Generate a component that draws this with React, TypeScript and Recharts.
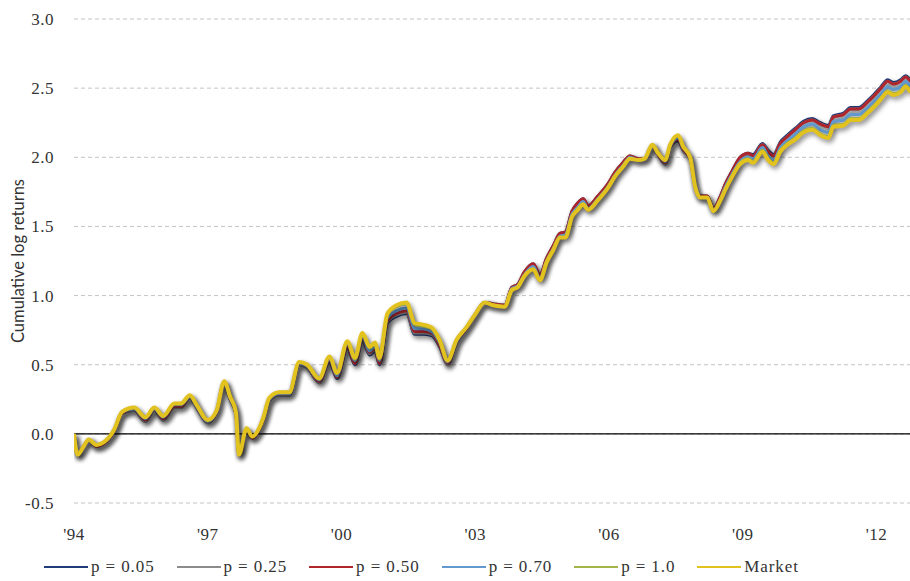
import React from 'react';
import { LineChart, Line, XAxis, YAxis, CartesianGrid, ReferenceLine, Legend } from 'recharts';

const years = [
  1994.00, 1994.08, 1994.20, 1994.33, 1994.50, 1994.67, 1994.90, 1995.08, 1995.35, 1995.60,
  1995.80, 1996.00, 1996.25, 1996.40, 1996.60, 1996.75, 1997.00, 1997.20, 1997.37, 1997.50,
  1997.63, 1997.70, 1997.87, 1998.00, 1998.15, 1998.25, 1998.38, 1998.60, 1998.83, 1999.05,
  1999.23, 1999.50, 1999.73, 1999.90, 2000.13, 2000.30, 2000.47, 2000.63, 2000.75, 2000.85,
  2001.03, 2001.23, 2001.46, 2001.64, 2001.82, 2002.02, 2002.20, 2002.38, 2002.58, 2002.80,
  2002.99, 2003.21, 2003.40, 2003.66, 2003.82, 2003.95, 2004.10, 2004.30, 2004.45, 2004.60,
  2004.75, 2004.90, 2005.02, 2005.17, 2005.30, 2005.42, 2005.53, 2005.75, 2005.98, 2006.13,
  2006.31, 2006.47, 2006.65, 2006.80, 2006.97, 2007.10, 2007.26, 2007.37, 2007.55, 2007.66,
  2007.82, 2007.93, 2008.04, 2008.20, 2008.34, 2008.50, 2008.60, 2008.76, 2008.94, 2009.12,
  2009.23, 2009.44, 2009.57, 2009.69, 2009.84, 2010.00, 2010.18, 2010.36, 2010.56, 2010.74,
  2010.92, 2011.03, 2011.26, 2011.42, 2011.60, 2011.80, 2011.93, 2012.10, 2012.25, 2012.38,
  2012.54, 2012.65, 2012.76,
];

const p05 = [
  0.00, -0.15, -0.10, -0.04, -0.09, -0.07, 0.02, 0.15, 0.17, 0.09,
  0.17, 0.10, 0.19, 0.19, 0.26, 0.19, 0.08, 0.16, 0.37, 0.25,
  0.15, -0.15, 0.03, -0.03, 0.03, 0.11, 0.24, 0.28, 0.28, 0.50,
  0.48, 0.37, 0.52, 0.40, 0.62, 0.50, 0.67, 0.57, 0.60, 0.50,
  0.80, 0.85, 0.87, 0.72, 0.72, 0.71, 0.63, 0.50, 0.66, 0.76,
  0.86, 0.95, 0.94, 0.93, 1.06, 1.08, 1.17, 1.23, 1.15, 1.27,
  1.36, 1.45, 1.46, 1.61, 1.67, 1.70, 1.65, 1.72, 1.81, 1.89,
  1.96, 2.01, 1.99, 1.99, 2.09, 2.02, 1.95, 2.07, 2.12, 2.05,
  1.99, 1.79, 1.72, 1.72, 1.63, 1.72, 1.80, 1.90, 2.00, 2.03,
  2.02, 2.10, 2.05, 2.02, 2.11, 2.16, 2.21, 2.26, 2.28, 2.25,
  2.23, 2.30, 2.32, 2.36, 2.36, 2.41, 2.45, 2.51, 2.56, 2.54,
  2.56, 2.59, 2.56,
];

const p25 = [
  0.00, -0.15, -0.10, -0.04, -0.09, -0.07, 0.02, 0.15, 0.17, 0.09,
  0.17, 0.10, 0.19, 0.19, 0.26, 0.19, 0.08, 0.16, 0.37, 0.25,
  0.15, -0.15, 0.03, -0.03, 0.03, 0.11, 0.24, 0.28, 0.28, 0.50,
  0.48, 0.37, 0.53, 0.41, 0.63, 0.51, 0.68, 0.58, 0.61, 0.51,
  0.81, 0.86, 0.88, 0.73, 0.73, 0.72, 0.64, 0.50, 0.66, 0.76,
  0.86, 0.95, 0.94, 0.93, 1.06, 1.08, 1.17, 1.22, 1.14, 1.27,
  1.36, 1.45, 1.45, 1.60, 1.66, 1.69, 1.65, 1.72, 1.81, 1.89,
  1.96, 2.01, 1.99, 1.99, 2.09, 2.02, 1.95, 2.07, 2.13, 2.05,
  1.99, 1.79, 1.72, 1.72, 1.63, 1.72, 1.79, 1.89, 1.99, 2.02,
  2.01, 2.09, 2.04, 2.01, 2.10, 2.15, 2.20, 2.25, 2.27, 2.24,
  2.22, 2.29, 2.31, 2.35, 2.35, 2.40, 2.44, 2.50, 2.55, 2.53,
  2.55, 2.58, 2.55,
];

const p50 = [
  0.00, -0.15, -0.10, -0.04, -0.09, -0.07, 0.02, 0.15, 0.18, 0.10,
  0.18, 0.11, 0.20, 0.20, 0.27, 0.20, 0.09, 0.16, 0.37, 0.26,
  0.15, -0.15, 0.03, -0.03, 0.03, 0.11, 0.25, 0.29, 0.29, 0.51,
  0.49, 0.38, 0.53, 0.41, 0.63, 0.51, 0.69, 0.59, 0.62, 0.51,
  0.82, 0.87, 0.89, 0.74, 0.74, 0.73, 0.64, 0.51, 0.67, 0.76,
  0.86, 0.95, 0.94, 0.93, 1.06, 1.08, 1.17, 1.23, 1.15, 1.27,
  1.36, 1.45, 1.46, 1.61, 1.67, 1.70, 1.65, 1.72, 1.81, 1.89,
  1.96, 2.01, 1.99, 1.99, 2.09, 2.02, 1.96, 2.08, 2.13, 2.06,
  1.99, 1.79, 1.72, 1.72, 1.63, 1.72, 1.80, 1.90, 2.00, 2.03,
  2.01, 2.09, 2.04, 2.01, 2.10, 2.15, 2.20, 2.25, 2.27, 2.24,
  2.22, 2.29, 2.31, 2.35, 2.35, 2.40, 2.44, 2.50, 2.55, 2.53,
  2.55, 2.58, 2.55,
];

const p70 = [
  0.00, -0.15, -0.10, -0.04, -0.08, -0.06, 0.03, 0.16, 0.18, 0.11,
  0.18, 0.12, 0.21, 0.21, 0.27, 0.20, 0.09, 0.17, 0.38, 0.26,
  0.16, -0.15, 0.04, -0.02, 0.04, 0.12, 0.25, 0.29, 0.29, 0.51,
  0.49, 0.39, 0.54, 0.42, 0.65, 0.53, 0.70, 0.60, 0.63, 0.53,
  0.84, 0.89, 0.91, 0.76, 0.76, 0.74, 0.66, 0.52, 0.67, 0.77,
  0.86, 0.95, 0.93, 0.92, 1.05, 1.07, 1.15, 1.21, 1.13, 1.25,
  1.34, 1.43, 1.44, 1.59, 1.64, 1.68, 1.63, 1.70, 1.79, 1.87,
  1.94, 2.00, 1.98, 1.99, 2.09, 2.03, 1.97, 2.08, 2.14, 2.07,
  2.00, 1.79, 1.71, 1.71, 1.62, 1.70, 1.78, 1.88, 1.97, 2.00,
  1.99, 2.07, 2.01, 1.98, 2.07, 2.12, 2.17, 2.22, 2.24, 2.20,
  2.18, 2.26, 2.27, 2.31, 2.31, 2.36, 2.40, 2.46, 2.51, 2.49,
  2.51, 2.55, 2.51,
];

const p100 = [
  0.00, -0.15, -0.10, -0.04, -0.08, -0.06, 0.03, 0.16, 0.19, 0.12,
  0.19, 0.13, 0.22, 0.22, 0.28, 0.21, 0.10, 0.17, 0.38, 0.27,
  0.16, -0.15, 0.04, -0.02, 0.04, 0.12, 0.26, 0.30, 0.30, 0.52,
  0.50, 0.40, 0.56, 0.44, 0.66, 0.54, 0.72, 0.62, 0.65, 0.54,
  0.86, 0.92, 0.94, 0.79, 0.78, 0.76, 0.67, 0.53, 0.68, 0.77,
  0.86, 0.95, 0.93, 0.92, 1.04, 1.06, 1.14, 1.19, 1.11, 1.24,
  1.33, 1.42, 1.42, 1.57, 1.63, 1.66, 1.62, 1.69, 1.78, 1.86,
  1.93, 1.99, 1.98, 1.99, 2.09, 2.03, 1.98, 2.09, 2.16, 2.08,
  2.00, 1.79, 1.71, 1.71, 1.61, 1.69, 1.76, 1.86, 1.96, 1.99,
  1.97, 2.05, 1.99, 1.96, 2.05, 2.10, 2.14, 2.19, 2.21, 2.17,
  2.15, 2.23, 2.24, 2.28, 2.28, 2.33, 2.37, 2.43, 2.48, 2.46,
  2.48, 2.52, 2.48,
];

const market = [
  0.00, -0.15, -0.10, -0.04, -0.08, -0.06, 0.03, 0.16, 0.19, 0.12,
  0.19, 0.13, 0.22, 0.22, 0.28, 0.21, 0.10, 0.17, 0.38, 0.27,
  0.16, -0.15, 0.04, -0.02, 0.04, 0.12, 0.26, 0.30, 0.30, 0.52,
  0.50, 0.40, 0.56, 0.44, 0.67, 0.55, 0.73, 0.63, 0.66, 0.55,
  0.87, 0.93, 0.95, 0.80, 0.79, 0.77, 0.68, 0.53, 0.68, 0.77,
  0.86, 0.95, 0.93, 0.92, 1.04, 1.06, 1.14, 1.19, 1.11, 1.24,
  1.33, 1.42, 1.42, 1.57, 1.62, 1.66, 1.62, 1.69, 1.78, 1.86,
  1.93, 1.99, 1.98, 1.99, 2.09, 2.03, 1.98, 2.09, 2.16, 2.08,
  2.00, 1.79, 1.71, 1.71, 1.61, 1.69, 1.76, 1.86, 1.95, 1.98,
  1.96, 2.04, 1.98, 1.95, 2.04, 2.09, 2.13, 2.18, 2.20, 2.16,
  2.14, 2.22, 2.23, 2.27, 2.27, 2.32, 2.36, 2.42, 2.47, 2.45,
  2.47, 2.51, 2.47,
];

const xTicks = [1994, 1997, 2000, 2003, 2006, 2009, 2012];
const yTicks = [-0.5, 0, 0.5, 1.0, 1.5, 2.0, 2.5, 3.0];

const seriesDefs = [
  { key: 'p05', name: 'p = 0.05', color: '#1f3b7a', width: 3 },
  { key: 'p25', name: 'p = 0.25', color: '#8c8c8c', width: 3 },
  { key: 'p50', name: 'p = 0.50', color: '#b0262d', width: 3 },
  { key: 'p70', name: 'p = 0.70', color: '#629ad0', width: 3 },
  { key: 'p100', name: 'p = 1.0', color: '#a2b548', width: 3 },
  { key: 'market', name: 'Market', color: '#e2c21f', width: 4 },
];

const data = years.map((t, i) => ({
  t,
  p05: p05[i],
  p25: p25[i],
  p50: p50[i],
  p70: p70[i],
  p100: p100[i],
  market: market[i],
}));

const renderLegend = () => (
  <div
    className="cl-legend"
    style={{
      display: 'flex',
      alignItems: 'center',
      height: 24,
      paddingLeft: 44,
      fontSize: 17,
      color: '#333',
    }}
  >
    {seriesDefs.map((s) => (
      <div key={s.key} style={{ display: 'flex', alignItems: 'center', marginRight: 22 }}>
        <div style={{ width: 44, height: 2, background: s.color, marginRight: 3 }} />
        <span style={{ whiteSpace: 'pre', letterSpacing: 0.9 }}>{s.name}</span>
      </div>
    ))}
  </div>
);

const YTitle = (props: any) => {
  const vb = props.viewBox || { x: 0, y: 0, width: 0, height: 0 };
  const cx = 18;
  const cy = vb.y + vb.height / 2;
  return (
    <text
      x={cx}
      y={cy}
      transform={`rotate(-90 ${cx} ${cy})`}
      textAnchor="middle"
      dominantBaseline="central"
      className="cl-ytitle"
      fontSize={16.5}
      fill="#333"
    >
      Cumulative log returns
    </text>
  );
};

const css = `
.recharts-line-curve { filter: drop-shadow(2px 3px 2.5px rgba(0,0,0,0.33)); }
.cl-legend, .cl-legend span { font-family: 'Liberation Serif', serif; }
.recharts-cartesian-axis-tick-value, .recharts-cartesian-axis-tick-value tspan { font-family: 'Liberation Serif', serif; letter-spacing: 0.5px; }
.cl-ytitle { font-family: 'Lato', sans-serif; }
`;

export default function App() {
  return (
    <div style={{ position: 'absolute', left: 0, top: 0, width: 910, height: 581, background: '#fff' }}>
      <style>{css}</style>
      <LineChart width={910} height={581} data={data} margin={{ top: 19, right: 0, bottom: 2, left: 0 }}>
        <CartesianGrid vertical={false} stroke="#c4c4c4" strokeDasharray="4 3" />
        <XAxis
          dataKey="t"
          type="number"
          domain={[1994, 2012.75]}
          allowDataOverflow
          ticks={xTicks}
          tickFormatter={(v: number) => "'" + String(v).slice(2)}
          axisLine={false}
          tickLine={false}
          height={52}
          tickMargin={19}
          tick={{ fontSize: 17, fill: '#333' }}
          interval={0}
        />
        <YAxis
          type="number"
          domain={[-0.5, 3]}
          ticks={yTicks}
          tickFormatter={(v: number) => v.toFixed(1)}
          axisLine={false}
          tickLine={false}
          width={74}
          tickMargin={14}
          tick={{ fontSize: 17, fill: '#333' }}
          label={<YTitle />}
        />
        <ReferenceLine y={0} stroke="#000" strokeWidth={1.2} />
        {seriesDefs.map((s) => (
          <Line
            key={s.key}
            type="monotone"
            dataKey={s.key}
            name={s.name}
            stroke={s.color}
            strokeWidth={s.width}
            dot={false}
            activeDot={false}
            isAnimationActive={false}
          />
        ))}
        <Legend
          verticalAlign="bottom"
          align="left"
          content={renderLegend}
          wrapperStyle={{ left: 0, bottom: 2, width: 910, height: 24 }}
        />
      </LineChart>
    </div>
  );
}
